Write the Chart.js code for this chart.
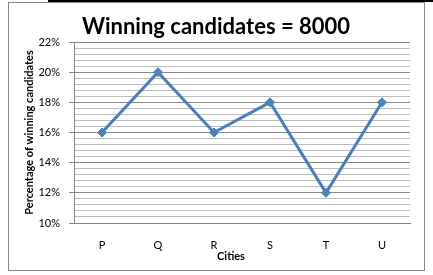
<!DOCTYPE html>
<html>
<head>
<meta charset="utf-8">
<script src="https://cdn.jsdelivr.net/npm/chart.js@4"></script>
<style>
  html, body { margin: 0; padding: 0; background: #fff; }
  #wrap { width: 433px; height: 275px; }
</style>
</head>
<body>
<div id="wrap"><canvas id="chartCanvas" width="433" height="275"></canvas></div>
<script>
// --- data ---
const cities = ["P", "Q", "R", "S", "T", "U"];
const winningPct = [16, 20, 16, 18, 12, 18];
const chartTitle = "Winning candidates = 8000";
const xTitle = "Cities";
const yMin = 10;
const yMax = 22;
const yStep = 0.4;

const canvas = document.getElementById("chartCanvas");
Chart.defaults.font.family = "Lato, 'Open Sans', sans-serif";
Chart.defaults.color = "#000";

const isMajor = v => Math.abs(v / 2 - Math.round(v / 2)) < 1e-6;

// white page, outer frame, titles and the table line on top
const framePlugin = {
  id: "frame",
  beforeDraw(chart) {
    const ctx = chart.ctx;
    ctx.save();
    ctx.fillStyle = "#fff";
    ctx.fillRect(0, 0, chart.width, chart.height);
    ctx.restore();
  },
  afterDraw(chart) {
    const ctx = chart.ctx;
    ctx.save();
    ctx.strokeStyle = "#868686";
    ctx.lineWidth = 1;
    ctx.strokeRect(8.5, 2.5, 416, 268);
    ctx.strokeStyle = "#000";
    ctx.lineWidth = 2;
    ctx.beginPath();
    ctx.moveTo(48, 1);
    ctx.lineTo(433, 1);
    ctx.moveTo(254.5, 0);
    ctx.lineTo(254.5, 2);
    ctx.stroke();
    // titles sit a bit off the plot centre in the original
    ctx.fillStyle = "#000";
    ctx.textAlign = "center";
    ctx.textBaseline = "middle";
    ctx.font = "bold 22px Lato, 'Open Sans', sans-serif";
    ctx.fillText(chartTitle, 216, 27);
    ctx.font = "bold 11px Lato, 'Open Sans', sans-serif";
    ctx.fillText(xTitle, 231, 256);
    ctx.restore();
  }
};

new Chart(canvas, {
  type: "line",
  data: {
    labels: cities,
    datasets: [{
      label: "Winning candidates",
      data: winningPct,
      borderColor: "#4A7EBB",
      backgroundColor: "#4F81BD",
      borderWidth: 3,
      pointStyle: "rectRot",
      pointRadius: 4.5,
      pointBorderWidth: 1,
      pointBorderColor: "#4A7EBB",
      pointBackgroundColor: "#4F81BD",
      tension: 0
    }]
  },
  options: {
    responsive: false,
    animation: false,
    layout: { padding: { left: 0, right: 23, top: 42, bottom: 13 } },
    plugins: {
      legend: { display: false },
      tooltip: { enabled: false },
      title: { display: false }
    },
    scales: {
      x: {
        offset: true,
        grid: { display: false },
        border: { display: true, color: "#868686", width: 1 },
        ticks: { padding: 8, font: { size: 11 }, color: "#000" },
        afterFit(scale) { scale.height = 39; }
      },
      y: {
        min: yMin,
        max: yMax,
        border: { display: true, color: "#868686", width: 1 },
        grid: {
          color: ctx => isMajor(ctx.tick.value) ? "#878787" : "#BDBDBD",
          tickColor: ctx => isMajor(ctx.tick.value) ? "#878787" : "rgba(0,0,0,0)",
          tickLength: 5
        },
        ticks: {
          stepSize: yStep,
          autoSkip: false,
          padding: 9,
          font: { size: 11 },
          color: "#000",
          callback: v => isMajor(v) ? Math.round(v) + "%" : ""
        },
        title: {
          display: true,
          text: "Percentage of winning candidates",
          color: "#000",
          font: { size: 11, weight: "bold" },
          padding: { top: 23, bottom: 0 }
        },
        afterFit(scale) { scale.width = 74; }
      }
    }
  },
  plugins: [framePlugin]
});
</script>
</body>
</html>
